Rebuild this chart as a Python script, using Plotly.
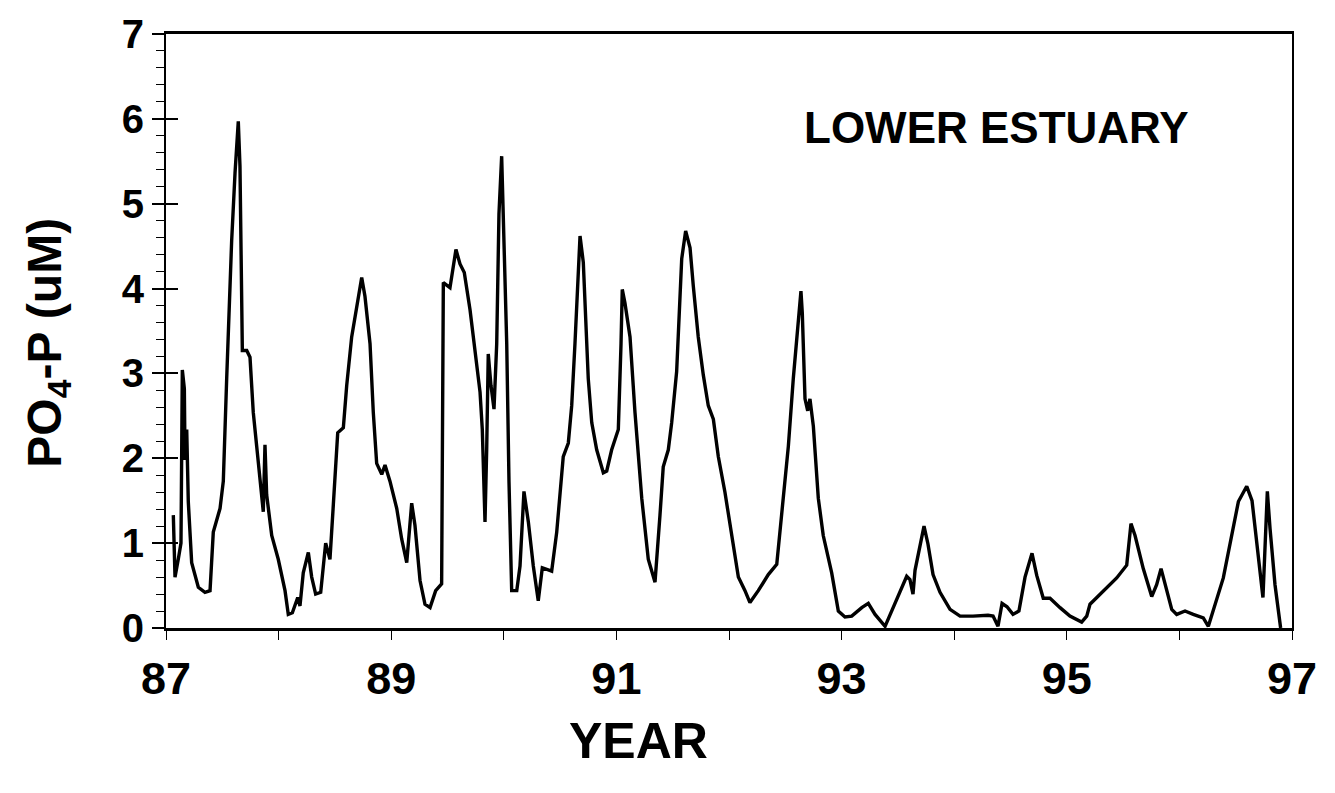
import plotly.graph_objects as go

# Year (decimal, 87 = 1987) and PO4-P concentration (uM)
year = [
    87.065, 87.080, 87.109, 87.133, 87.145, 87.163, 87.169, 87.184, 87.198, 87.228,
    87.287, 87.346, 87.391, 87.420, 87.480, 87.509, 87.539, 87.583, 87.613, 87.642,
    87.657, 87.678, 87.717, 87.746, 87.775, 87.820, 87.864, 87.879, 87.894, 87.939,
    87.997, 88.057, 88.086, 88.122, 88.170, 88.190, 88.219, 88.264, 88.294, 88.329,
    88.374, 88.418, 88.456, 88.486, 88.525, 88.575, 88.605, 88.649, 88.738, 88.767,
    88.812, 88.841, 88.871, 88.916, 88.945, 88.989, 89.049, 89.093, 89.138, 89.182,
    89.211, 89.256, 89.300, 89.345, 89.395, 89.448, 89.463, 89.522, 89.575, 89.611,
    89.649, 89.700, 89.744, 89.789, 89.809, 89.833, 89.848, 89.862, 89.886, 89.913,
    89.937, 89.957, 89.981, 89.996, 90.026, 90.046, 90.070, 90.115, 90.144, 90.179,
    90.218, 90.262, 90.306, 90.342, 90.425, 90.470, 90.528, 90.573, 90.603, 90.632,
    90.662, 90.677, 90.706, 90.721, 90.750, 90.781, 90.825, 90.884, 90.914, 90.958,
    91.017, 91.041, 91.052, 91.076, 91.121, 91.165, 91.225, 91.283, 91.343, 91.387,
    91.416, 91.461, 91.491, 91.535, 91.580, 91.615, 91.654, 91.683, 91.727, 91.772,
    91.816, 91.861, 91.905, 91.964, 92.024, 92.083, 92.142, 92.186, 92.260, 92.349,
    92.424, 92.468, 92.527, 92.571, 92.615, 92.639, 92.651, 92.675, 92.699, 92.719,
    92.749, 92.793, 92.837, 92.912, 92.971, 93.030, 93.090, 93.179, 93.237, 93.297,
    93.386, 93.445, 93.504, 93.578, 93.607, 93.634, 93.652, 93.696, 93.732, 93.767,
    93.812, 93.874, 93.963, 94.052, 94.167, 94.300, 94.345, 94.389, 94.425, 94.469,
    94.522, 94.575, 94.629, 94.691, 94.733, 94.791, 94.851, 94.940, 95.028, 95.132,
    95.177, 95.206, 95.324, 95.443, 95.532, 95.555, 95.570, 95.606, 95.679, 95.754,
    95.798, 95.837, 95.872, 95.932, 95.976, 96.050, 96.123, 96.212, 96.257, 96.390,
    96.524, 96.598, 96.645, 96.686, 96.742, 96.781, 96.805, 96.849, 96.899,
]
po4 = [
    1.33, 0.60, 0.81, 1.00, 3.04, 2.82, 1.98, 2.34, 1.49, 0.77,
    0.48, 0.42, 0.44, 1.13, 1.41, 1.73, 2.94, 4.56, 5.36, 5.97,
    5.44, 3.27, 3.27, 3.19, 2.54, 1.90, 1.37, 2.16, 1.57, 1.09,
    0.81, 0.44, 0.16, 0.18, 0.36, 0.26, 0.65, 0.89, 0.60, 0.40,
    0.42, 1.00, 0.81, 1.45, 2.30, 2.36, 2.86, 3.43, 4.13, 3.91,
    3.35, 2.54, 1.94, 1.81, 1.92, 1.73, 1.41, 1.05, 0.77, 1.47,
    1.21, 0.56, 0.28, 0.24, 0.44, 0.52, 4.07, 4.01, 4.46, 4.29,
    4.19, 3.75, 3.27, 2.78, 2.34, 1.25, 2.10, 3.23, 2.86, 2.58,
    3.35, 4.88, 5.56, 4.84, 3.35, 1.73, 0.44, 0.44, 0.73, 1.61,
    1.25, 0.73, 0.32, 0.71, 0.67, 1.13, 2.02, 2.18, 2.62, 3.35,
    4.35, 4.62, 4.31, 3.87, 2.94, 2.42, 2.10, 1.83, 1.85, 2.10,
    2.34, 3.35, 3.99, 3.83, 3.43, 2.54, 1.53, 0.81, 0.54, 1.33,
    1.90, 2.10, 2.42, 3.02, 4.35, 4.68, 4.48, 4.03, 3.43, 2.98,
    2.62, 2.46, 2.02, 1.60, 1.09, 0.60, 0.44, 0.30, 0.44, 0.63,
    0.75, 1.33, 2.14, 2.94, 3.67, 3.97, 3.71, 2.70, 2.56, 2.70,
    2.38, 1.53, 1.09, 0.65, 0.20, 0.13, 0.14, 0.24, 0.29, 0.16,
    0.02, 0.20, 0.40, 0.61, 0.57, 0.40, 0.68, 0.95, 1.20, 0.99,
    0.63, 0.42, 0.22, 0.14, 0.14, 0.15, 0.14, 0.02, 0.29, 0.25,
    0.16, 0.20, 0.60, 0.88, 0.62, 0.35, 0.35, 0.24, 0.14, 0.07,
    0.14, 0.28, 0.43, 0.59, 0.74, 1.01, 1.23, 1.09, 0.70, 0.37,
    0.51, 0.70, 0.51, 0.22, 0.16, 0.20, 0.16, 0.12, 0.02, 0.59,
    1.49, 1.67, 1.50, 1.01, 0.36, 1.61, 1.17, 0.51, 0.00,
]

x_tick_vals = [87, 89, 91, 93, 95, 97]
x_tick_text = ["87", "89", "91", "93", "95", "97"]
y_tick_vals = [0, 1, 2, 3, 4, 5, 6, 7]

FONT = "Arial, Liberation Sans, Helvetica, sans-serif"

fig = go.Figure()
fig.add_trace(go.Scatter(
    x=year, y=po4, mode="lines",
    line=dict(color="black", width=3.4),
    hoverinfo="skip", showlegend=False,
))
# invisible trace to attach the inner major tick axis
fig.add_trace(go.Scatter(x=[87], y=[0], yaxis="y2", mode="markers",
                         marker=dict(opacity=0), showlegend=False, hoverinfo="skip"))

fig.update_layout(
    width=1335, height=793, autosize=False,
    margin=dict(l=166, r=43, t=27, b=165),
    paper_bgcolor="white", plot_bgcolor="white",
    font=dict(family=FONT, color="black"),
    xaxis=dict(
        range=[87, 97], showgrid=False, zeroline=False,
        showline=True, linecolor="black", linewidth=2.5, mirror=True,
        tickmode="array", tickvals=x_tick_vals, ticktext=x_tick_text,
        ticks="outside", ticklen=9, tickwidth=1, tickcolor="black",
        minor=dict(dtick=1, tick0=87, ticks="outside", ticklen=9, tickwidth=1, tickcolor="black"),
        tickfont=dict(size=45, family=FONT, weight="bold"),
    ),
    yaxis=dict(
        range=[0, 7], showgrid=False, zeroline=False,
        showline=True, linecolor="black", linewidth=2, mirror=True,
        tickmode="array", tickvals=y_tick_vals,
        ticks="outside", ticklen=12, tickwidth=1.5, tickcolor="black",
        minor=dict(dtick=0.2, ticks="outside", ticklen=8, tickwidth=1, tickcolor="black"),
        tickfont=dict(size=40, family=FONT, weight="bold"),
    ),
    yaxis2=dict(
        range=[0, 7], overlaying="y", side="left", showgrid=False, zeroline=False,
        showline=False, tickmode="array", tickvals=y_tick_vals,
        ticks="inside", ticklen=12, tickwidth=1.5, tickcolor="black",
        showticklabels=False,
    ),
    annotations=[
        dict(text="LOWER ESTUARY", x=0.738, y=0.843, xref="paper", yref="paper",
             xanchor="center", yanchor="middle", showarrow=False,
             font=dict(size=44, family=FONT, weight="bold", color="black")),
        dict(text="YEAR", x=0.42, y=-0.19, xref="paper", yref="paper",
             xanchor="center", yanchor="middle", showarrow=False,
             font=dict(size=50, family=FONT, weight="bold", color="black")),
        dict(text="PO<sub>4</sub>-P (uM)", x=-0.105, y=0.48, xref="paper", yref="paper",
             xanchor="center", yanchor="middle", showarrow=False, textangle=-90,
             font=dict(size=48, family=FONT, weight="bold", color="black")),
    ],
)

fig.write_html("out.html")
